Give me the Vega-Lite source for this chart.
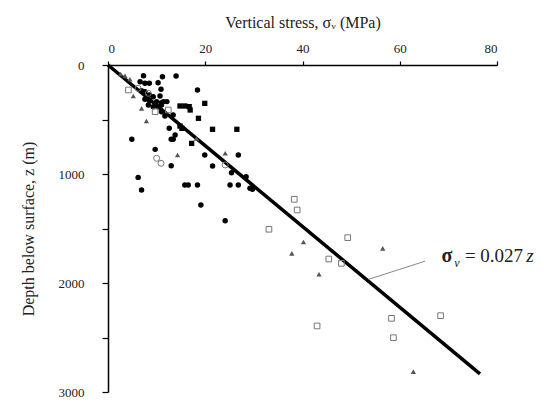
{
  "$schema": "https://vega.github.io/schema/vega-lite/v6.json",
  "width": 389,
  "height": 327,
  "autosize": "none",
  "padding": {"left": 108, "top": 65, "right": 47, "bottom": 14},
  "background": "white",
  "config": {
    "view": {"stroke": null},
    "font": "Liberation Serif",
    "axis": {"labelFont": "Liberation Serif", "titleFont": "Liberation Serif", "grid": false, "domainColor": "black", "tickColor": "black", "labelColor": "#222", "titleColor": "#222", "titleFontWeight": "normal", "labelFontSize": 13, "titleFontSize": 16, "domainWidth": 1.5, "tickWidth": 1.2}
  },
  "datasets": {
    "pts": [
      {"s": 2.6, "z": 83, "t": "t"}, {"s": 3.5, "z": 100, "t": "t"}, {"s": 4.5, "z": 130, "t": "t"}, {"s": 5.2, "z": 284, "t": "t"}, {"s": 6.9, "z": 398, "t": "t"}, {"s": 7.9, "z": 514, "t": "t"}, {"s": 14.3, "z": 826, "t": "t"}, {"s": 24.1, "z": 810, "t": "t"}, {"s": 18.2, "z": 673, "t": "t"}, {"s": 40.2, "z": 1624, "t": "t"}, {"s": 37.8, "z": 1728, "t": "t"}, {"s": 56.5, "z": 1682, "t": "t"}, {"s": 43.4, "z": 1920, "t": "t"}, {"s": 62.8, "z": 2813, "t": "t"},
      {"s": 4.2, "z": 229, "t": "os"}, {"s": 9.7, "z": 428, "t": "os"}, {"s": 12.4, "z": 413, "t": "os"}, {"s": 33.1, "z": 1507, "t": "os"}, {"s": 38.3, "z": 1232, "t": "os"}, {"s": 38.9, "z": 1330, "t": "os"}, {"s": 49.3, "z": 1584, "t": "os"}, {"s": 45.4, "z": 1780, "t": "os"}, {"s": 48.0, "z": 1820, "t": "os"}, {"s": 58.3, "z": 2324, "t": "os"}, {"s": 68.4, "z": 2300, "t": "os"}, {"s": 58.7, "z": 2502, "t": "os"}, {"s": 43.0, "z": 2394, "t": "os"},
      {"s": 6.2, "z": 214, "t": "oc"}, {"s": 8.3, "z": 260, "t": "oc"}, {"s": 10.0, "z": 856, "t": "oc"}, {"s": 10.9, "z": 902, "t": "oc"}, {"s": 24.1, "z": 917, "t": "oc"},
      {"s": 7.3, "z": 98, "t": "c"}, {"s": 11.2, "z": 107, "t": "c"}, {"s": 14.0, "z": 101, "t": "c"}, {"s": 6.6, "z": 153, "t": "c"}, {"s": 7.6, "z": 168, "t": "c"}, {"s": 8.5, "z": 168, "t": "c"}, {"s": 10.3, "z": 162, "t": "c"}, {"s": 6.9, "z": 236, "t": "c"}, {"s": 7.6, "z": 245, "t": "c"}, {"s": 10.9, "z": 223, "t": "c"}, {"s": 18.4, "z": 229, "t": "c"}, {"s": 8.5, "z": 275, "t": "c"}, {"s": 9.3, "z": 291, "t": "c"}, {"s": 10.7, "z": 284, "t": "c"}, {"s": 7.6, "z": 315, "t": "c"}, {"s": 8.5, "z": 327, "t": "c"}, {"s": 10.0, "z": 336, "t": "c"}, {"s": 11.0, "z": 346, "t": "c"}, {"s": 11.4, "z": 336, "t": "c"}, {"s": 12.1, "z": 336, "t": "c"}, {"s": 8.3, "z": 367, "t": "c"}, {"s": 9.3, "z": 382, "t": "c"}, {"s": 10.3, "z": 382, "t": "c"}, {"s": 11.0, "z": 367, "t": "c"}, {"s": 11.0, "z": 428, "t": "c"}, {"s": 11.7, "z": 468, "t": "c"}, {"s": 13.4, "z": 459, "t": "c"}, {"s": 12.6, "z": 581, "t": "c"}, {"s": 13.8, "z": 642, "t": "c"}, {"s": 13.4, "z": 682, "t": "c"}, {"s": 13.0, "z": 682, "t": "c"}, {"s": 4.9, "z": 682, "t": "c"}, {"s": 9.7, "z": 774, "t": "c"}, {"s": 19.9, "z": 826, "t": "c"}, {"s": 13.0, "z": 924, "t": "c"}, {"s": 21.5, "z": 927, "t": "c"}, {"s": 25.4, "z": 988, "t": "c"}, {"s": 28.4, "z": 1025, "t": "c"}, {"s": 6.2, "z": 1031, "t": "c"}, {"s": 6.9, "z": 1147, "t": "c"}, {"s": 15.8, "z": 1101, "t": "c"}, {"s": 16.5, "z": 1101, "t": "c"}, {"s": 18.4, "z": 1101, "t": "c"}, {"s": 25.1, "z": 1101, "t": "c"}, {"s": 26.8, "z": 1101, "t": "c"}, {"s": 29.7, "z": 1141, "t": "c"}, {"s": 19.1, "z": 1284, "t": "c"}, {"s": 24.1, "z": 1428, "t": "c"}, {"s": 29.2, "z": 1131, "t": "c"}, {"s": 26.8, "z": 826, "t": "c"},
      {"s": 14.8, "z": 376, "t": "s"}, {"s": 15.8, "z": 376, "t": "s"}, {"s": 16.7, "z": 382, "t": "s"}, {"s": 16.9, "z": 413, "t": "s"}, {"s": 19.9, "z": 352, "t": "s"}, {"s": 18.6, "z": 489, "t": "s"}, {"s": 14.8, "z": 560, "t": "s"}, {"s": 15.2, "z": 581, "t": "s"}, {"s": 21.5, "z": 590, "t": "s"}, {"s": 26.5, "z": 590, "t": "s"}, {"s": 17.2, "z": 719, "t": "s"}
    ],
    "fit": [{"s": 0, "z": 0}, {"s": 76.5, "z": 2833}],
    "leader": [{"s": 53.6, "z": 1966}, {"s": 65.2, "z": 1800}]
  },
  "encoding": {
    "x": {"field": "s", "type": "quantitative", "scale": {"domain": [0, 80], "nice": false, "zero": false},
      "axis": {"orient": "top", "title": "Vertical stress, σᵥ (MPa)", "labelFont": "Liberation Serif", "titleFont": "Liberation Serif", "values": [0, 20, 40, 60, 80], "tickSize": 4, "labelPadding": 6, "titlePadding": 12}},
    "y": {"field": "z", "type": "quantitative", "scale": {"domain": [0, 3000], "reverse": true, "nice": false},
      "axis": {"title": "Depth below surface, z (m)", "labelFont": "Liberation Serif", "titleFont": "Liberation Serif", "values": [0, 500, 1000, 1500, 2000, 2500, 3000], "format": "d", "labelExpr": "datum.value % 1000 === 0 ? datum.label : ''", "tickSize": 6, "labelPadding": 18, "titlePadding": 22}}
  },
  "layer": [
    {"data": {"name": "fit"}, "mark": {"type": "line", "color": "black", "strokeWidth": 3.5, "clip": false}},
    {"data": {"name": "leader"}, "mark": {"type": "line", "color": "#888", "strokeWidth": 1}},
    {"data": {"name": "pts"}, "transform": [{"filter": "datum.t === 'c'"}], "mark": {"type": "point", "shape": "circle", "filled": true, "color": "black", "size": 30, "opacity": 1}},
    {"data": {"name": "pts"}, "transform": [{"filter": "datum.t === 's'"}], "mark": {"type": "point", "shape": "square", "filled": true, "color": "black", "size": 28, "opacity": 1}},
    {"data": {"name": "pts"}, "transform": [{"filter": "datum.t === 't'"}], "mark": {"type": "point", "shape": "triangle-up", "filled": true, "color": "#555", "size": 28, "opacity": 1}},
    {"data": {"name": "pts"}, "transform": [{"filter": "datum.t === 'os'"}], "mark": {"type": "point", "shape": "square", "filled": false, "color": "#777", "strokeWidth": 1, "size": 32, "opacity": 1}},
    {"data": {"name": "pts"}, "transform": [{"filter": "datum.t === 'oc'"}], "mark": {"type": "point", "shape": "circle", "filled": false, "color": "#777", "strokeWidth": 1, "size": 36, "opacity": 1}},
    {"data": {"values": [{"s": 68.6, "z": 1752, "label": "σ"}]}, "mark": {"type": "text", "align": "left", "baseline": "middle", "font": "Liberation Serif", "fontSize": 20, "fontWeight": "bold", "color": "#222"}, "encoding": {"text": {"field": "label"}}},
    {"data": {"values": [{"s": 71.2, "z": 1820, "label": "v"}]}, "mark": {"type": "text", "align": "left", "baseline": "middle", "font": "Liberation Serif", "fontSize": 12, "fontStyle": "italic", "color": "#222"}, "encoding": {"text": {"field": "label"}}},
    {"data": {"values": [{"s": 73.4, "z": 1752, "label": "= 0.027"}]}, "mark": {"type": "text", "align": "left", "baseline": "middle", "font": "Liberation Serif", "fontSize": 19, "color": "#222", "clip": false}, "encoding": {"text": {"field": "label"}}},
    {"data": {"values": [{"s": 86.0, "z": 1752, "label": "z"}]}, "mark": {"type": "text", "align": "left", "baseline": "middle", "font": "Liberation Serif", "fontSize": 19, "fontStyle": "italic", "color": "#222", "clip": false}, "encoding": {"text": {"field": "label"}}}
  ]
}
